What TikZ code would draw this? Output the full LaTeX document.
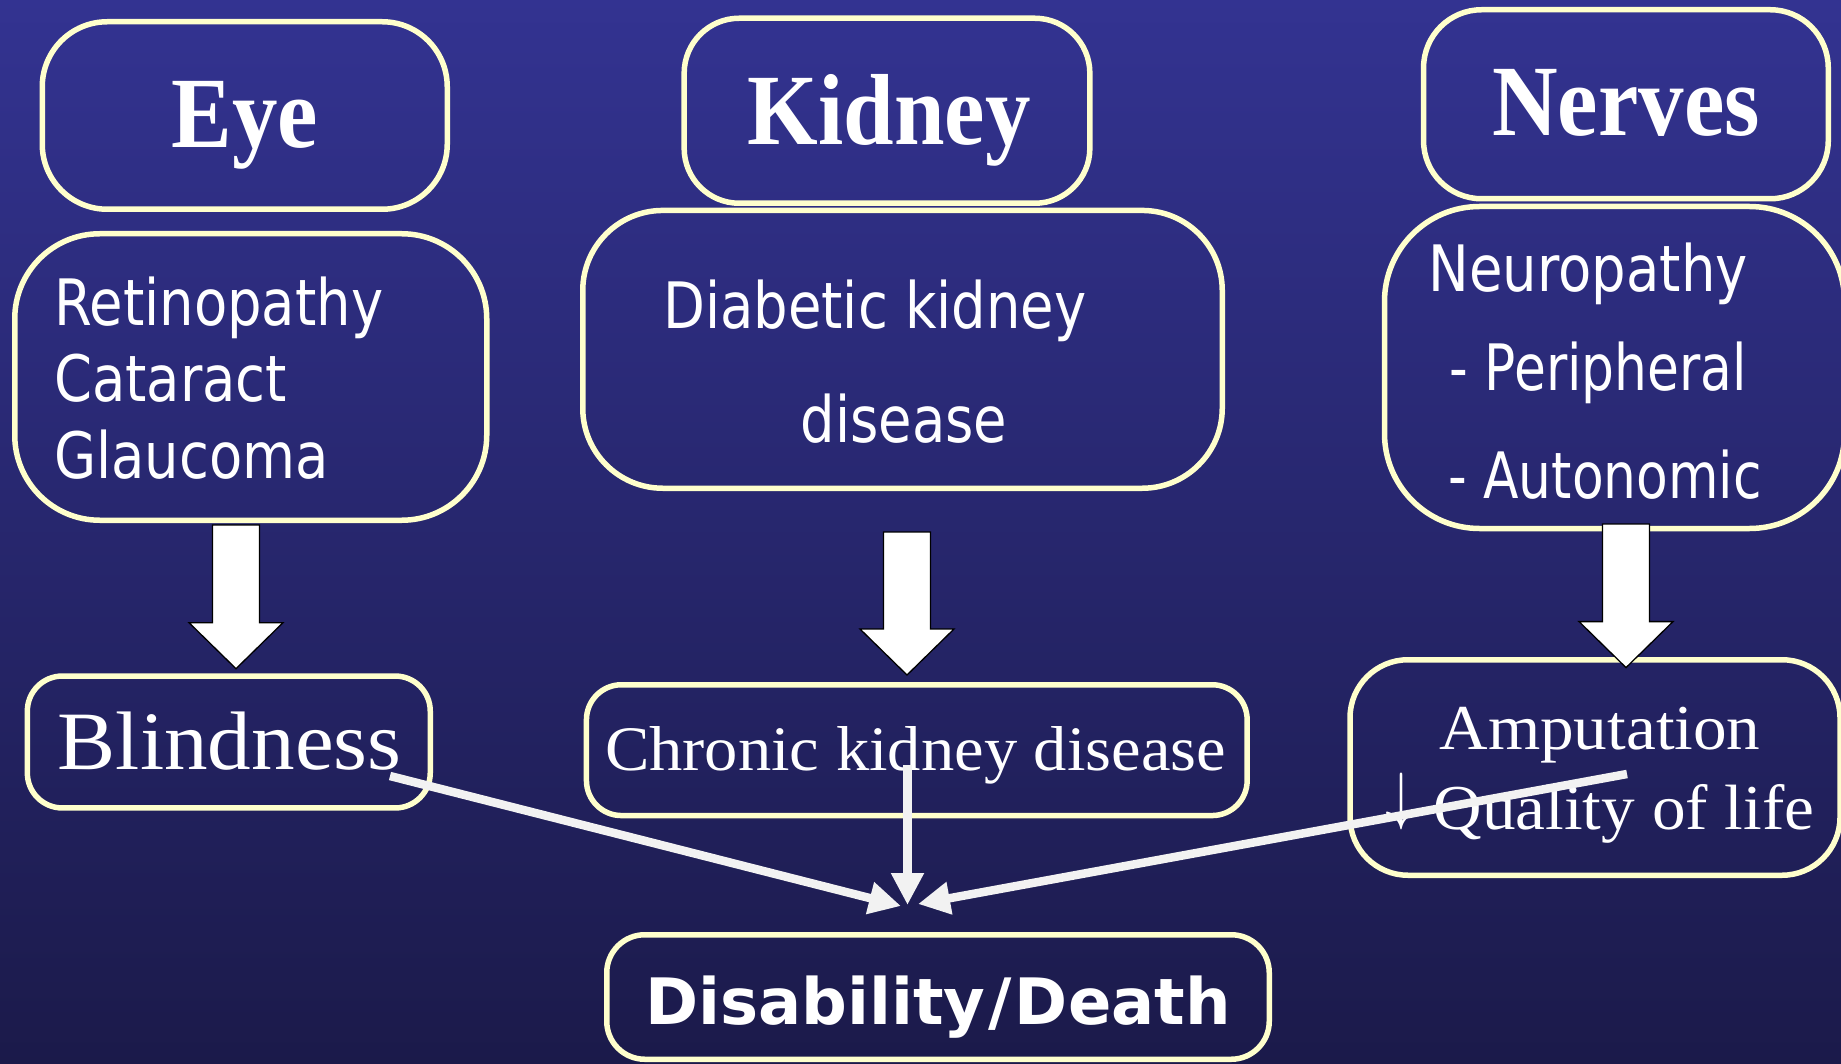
\documentclass[tikz,border=0pt]{standalone}
\usepackage{graphicx}
\usepackage{fontspec}
\usetikzlibrary{arrows.meta}
\newfontfamily\bodyfont[FakeStretch=0.85]{DejaVu Sans}
\newfontfamily\bodynarrow[FakeStretch=0.81]{DejaVu Sans}
\newfontfamily\boldsans{DejaVu Sans}
\newfontfamily\headfont[FakeStretch=0.9]{Liberation Serif}
\newfontfamily\serfont[FakeStretch=1.05]{Liberation Serif}
\definecolor{bgtop}{RGB}{51,51,145}
\definecolor{bgbot}{RGB}{27,26,74}
\definecolor{rim}{RGB}{255,255,204}
\definecolor{wire}{RGB}{242,242,242}
\newcommand{\bigdown}[2]{\draw[bigarr] ([xshift=-23.5pt]#1) -- ++(47,0) -- ++(0,#2) -- ++(23.5,0) -- ++(-47,46) -- ++(-47,-46) -- ++(23.5,0) -- cycle;}
\newcommand{\thinarrowglyph}{\raisebox{12pt}{\scalebox{6.4}{\fontsize{10}{12}\selectfont$\downarrow$}}}
\tikzset{
  box/.style={draw=rim, line width=5.5pt, rectangle, inner sep=0pt},
  txt/.style={text=white, inner sep=0pt},
  hd/.style={txt, font=\headfont\bfseries\fontsize{101}{121}\selectfont},
  body/.style={txt, font=\bodyfont\fontsize{64}{76.5}\selectfont},
  bigarr/.style={fill=white, draw=black, line width=1.3pt, line join=miter},
  wirearr/.style={draw=wire, line width=8.5pt, -{Triangle[length=32pt,width=31pt]}},
}
\begin{document}
\begin{tikzpicture}[x=1pt,y=-1pt]
\useasboundingbox (0,0) rectangle (1841,1064);
\fill[top color=bgtop, bottom color=bgbot] (0,0) rectangle (1841,1064);

% boxes
\node[box, minimum width=405pt, minimum height=187.5pt, rounded corners=65pt] (eyebox) at (244.75,115.5) {};
\node[box, minimum width=472pt, minimum height=286.5pt, rounded corners=85pt] (retbox) at (250.75,377) {};
\node[box, minimum width=405.7pt, minimum height=185pt, rounded corners=55pt] (kidbox) at (887,110.75) {};
\node[box, minimum width=639.5pt, minimum height=277.8pt, rounded corners=80pt] (dkdbox) at (902.5,349.35) {};
\node[box, minimum width=404.7pt, minimum height=189pt, rounded corners=58pt] (nerbox) at (1625.9,104.25) {};
\node[box, minimum width=460pt, minimum height=322pt, rounded corners=95pt] (neubox) at (1614.5,367.5) {};
\node[box, minimum width=402.9pt, minimum height=131.9pt, rounded corners=35pt] (blibox) at (228.8,742) {};
\node[box, minimum width=660.7pt, minimum height=130.8pt, rounded corners=35pt] (ckdbox) at (916.8,750.15) {};
\node[box, minimum width=490pt, minimum height=215.5pt, rounded corners=58pt] (ampbox) at (1595,767.5) {};
\node[box, minimum width=662.5pt, minimum height=124.5pt, rounded corners=38pt] (disbox) at (938,997) {};

% texts
\node[hd, anchor=base] (eyet) at (245,148) {Eye};
\node[hd, anchor=base] (kidt) at (889,144.6) {Kidney};
\node[hd, anchor=base] (nert) at (1626,136) {Nerves};
\node[body, anchor=base west] (rett) at (54,325.5) {\begin{tabular}[t]{@{}l@{}}Retinopathy\\Cataract\\Glaucoma\end{tabular}};
\node[body, anchor=base west] (dkdt) at (663,329) {\begin{tabular}[t]{@{}l@{}}Diabetic kidney\\[37.5pt]\hspace*{137.6pt}disease\end{tabular}};
\node[body, anchor=base west] (neut) at (1428.5,292) {\begin{tabular}[t]{@{}l@{}}Neuropathy\\[22.5pt]\hspace*{21pt}{\bodynarrow - Peripheral}\\[31pt]\hspace*{19.5pt}{\bodynarrow - Autonomic}\end{tabular}};
\node[txt, anchor=base, font=\serfont\fontsize{83}{100}\selectfont] (blit) at (229.7,769) {Blindness};
\node[txt, anchor=base, font=\serfont\fontsize{63.4}{76}\selectfont] (ckdt) at (915.6,770.5) {Chronic kidney disease};
\node[txt, anchor=base, font=\serfont\fontsize{64}{77.4}\selectfont] (ampt) at (1600,749.6) {\begin{tabular}[t]{@{}c@{}}Amputation\\\thinarrowglyph\hspace{16pt}Quality of life\end{tabular}};
\node[txt, anchor=base, font=\boldsans\bfseries\fontsize{64}{77}\selectfont] (dist) at (938,1024.7) {Disability\kern3pt/\kern3pt Death};

% big arrows
\coordinate (eyeA) at (236,525);
\coordinate (kidA) at (907,532);
\coordinate (nerA) at (1626,524);
\bigdown{eyeA}{97.7}
\bigdown{kidA}{97}
\bigdown{nerA}{97.6}

% thin arrows
\coordinate (bstart) at (390,776);
\coordinate (kstart) at (907.5,765);
\coordinate (astart) at (1627,774);
\coordinate (hubA) at (901,906);
\coordinate (hubB) at (907.5,905);
\coordinate (hubC) at (918,904);
\draw[wirearr] (bstart) -- (hubA);
\draw[wirearr] (kstart) -- (hubB);
\draw[wirearr] (astart) -- (hubC);
\end{tikzpicture}
\end{document}
